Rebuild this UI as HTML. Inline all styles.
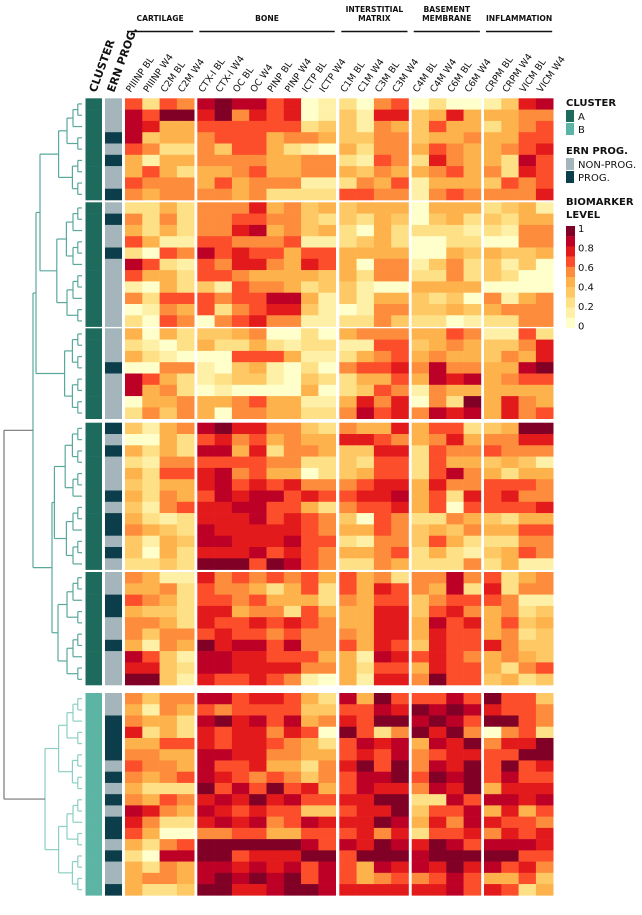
<!DOCTYPE html>
<html><head><meta charset="utf-8">
<style>
html,body{margin:0;padding:0;background:#fff;}
svg{display:block;font-family:"DejaVu Sans","Liberation Sans",sans-serif;}
</style></head>
<body>
<svg id="chart" width="642" height="915" viewBox="0 0 642 915" xmlns="http://www.w3.org/2000/svg">
<g id="hdr"></g>
<g id="dendro"></g>
<g id="side"></g>
<g id="cells"></g>
<g id="legend"></g>
</svg>
<script>
const columns = ["PIIINP BL","PIIINP W4","C2M BL","C2M W4","CTX-I BL","CTX-I W4","OC BL","OC W4","PINP BL","PINP W4","ICTP BL","ICTP W4","C1M BL","C1M W4","C3M BL","C3M W4","C4M BL","C4M W4","C6M BL","C6M W4","CRPM BL","CRPM W4","VICM BL","VICM W4"];
const groups = [["CARTILAGE"],["BONE"],["INTERSTITIAL","MATRIX"],["BASEMENT","MEMBRANE"],["INFLAMMATION"]];
const groupSizes = [4,8,4,4,4];
const blockSizes = [9,11,8,13,10,18];
const blockCluster = ["A","A","A","A","A","B"];
// ERN progression per block: 1 = progressor
const ern1 = [0,0,0,1,0,1,0,0,1];
const ern2 = [0,1,0,0,1,0,0,0,0,0,0];
const ern3 = [0,0,0,1,0,0,0,0];
const ern4 = [1,0,1,0,0,0,1,0,1,1,0,1,0];
const ern5 = [0,0,1,1,0,0,1,0,0,0];
const ern6 = [0,0,1,1,1,1,0,1,0,1,0,1,1,0,1,0,0,1];
// biomarker level per row, each digit = level*9
const levels1 = ["626589886701205602001378","869979576701317734744455","874466666623315436442456","834456664554335534454466","652253664210425546544567","414455554455216527544286","464244564455435445645276","655546455511254614443656","545555452222665515655557"];
const levels2 = ["224255574534344404442341","525255665532324303423244","424255784534204222212155","641166555611234200220055","206586766466444400434334","862165775476405513523130","644266544443425522523200","104231655423310044440000","526665668841314432305145","015462567731015533434555","206505675511225322012255"];
const levels3 = ["404233450020455544651162","210242242122116634543357","421000666411245645443547","005510341020566758554489","864212331032244648784566","845201000040236515444444","044544564411475705294754","253540554422586758784756"];
const levels4 = ["314589775532544746623499","004267564544776545745577","424288472554337726556555","215566665522326626443431","426678564402346626854244","324478676755567747556665","425468788676677846276755","315677886642566746066667","421277786765306522543244","543287777765446534354466","314388777866215536422255","304277786765445624213465","223299969865225422252411"];
const levels5 = ["541175656564645255856245","445265542462647654827255","654266564442546635666511","433277455264447736754523","554276676765447748674634","535567665655547747664523","415497886855647637667533","863188776664418767654543","773288777755426647664256","993176676510417759663423"];
const levels6 = ["535588677642849666869663","415465666633668798987665","544289786845769989869965","724276775760962597950562","446676776542687848795779","554488775544676856776699","655486674425796958796967","545687656535688969896866","422296869674687758794777","546578797866779922868878","875487676633677936684746","752278785687779847587665","640055664466675726675767","425699999986879879868887","208899677799699989999966","425488787868648787978675","455489898968645656864463","422399778998777777867624"];
</script>
<script>
function parseRows(arr){return arr.map(s=>{s=s.replace(/\s/g,'');while(s.length<24)s+=s[s.length-1];return s.slice(0,24).split('').map(d=>+d/9);});}
const blocks=[levels1,levels2,levels3,levels4,levels5,levels6].map(parseRows);
const erns=[ern1,ern2,ern3,ern4,ern5,ern6];
const NS="http://www.w3.org/2000/svg";
function mk(tag,attrs,parent){const e=document.createElementNS(NS,tag);for(const k in attrs)e.setAttribute(k,attrs[k]);parent.appendChild(e);return e;}
const pal=["#ffffcc","#fff0a8","#fee087","#fec965","#feb24c","#fd8d3c","#fc4e2a","#e31a1c","#bd0026","#800026"];
function color(v){let i=Math.round(v*9);return pal[Math.max(0,Math.min(9,i))];}
const colW=17.3, groupStart=[125,197.3,339.3,411.7,484];
const blockStart=[98.3,202.3,328.3,422.7,572,693];
const rowH=11.3;
function colX(c){let g=0,acc=0;while(c>=acc+groupSizes[g]){acc+=groupSizes[g];g++;}return groupStart[g]+(c-acc)*colW;}
function rowY(b,r){return blockStart[b]+r*(b==5?11.24:rowH);}
function rowHt(b){return b==5?11.24:rowH;}

const hdr=document.getElementById('hdr');
groups.forEach((g,i)=>{
  const x0=groupStart[i]+2, x1=groupStart[i]+groupSizes[i]*colW-1;
  const cx=(x0+x1)/2;
  g.forEach((line,j)=>{
    const t=mk('text',{x:cx,y:(g.length==1?21:12+j*9),'text-anchor':'middle','font-size':'7.6','font-weight':'bold',fill:'#111'},hdr);
    t.textContent=line;
    
    
  });
  const l=mk('line',{x1:x0,x2:x1,y1:31.5,y2:31.5,stroke:'#111','stroke-width':1.6},hdr);
  
  
});
columns.forEach((c,i)=>{
  const x=colX(i)+colW/2-3, y=93;
  const t=mk('text',{x:x,y:y,transform:`rotate(-55 ${x} ${y})`,'font-size':'9.3',fill:'#111'},hdr);
  t.textContent=c;
  
  
});
[["CLUSTER",96],["ERN PROG.",114]].forEach(([s,x])=>{
  const t=mk('text',{x:x,y:93,transform:`rotate(-70 ${x} 93)`,'font-size':'11','font-weight':'bold',fill:'#111'},hdr);
  t.textContent=s;
  
  
});

const cells=document.getElementById('cells'), side=document.getElementById('side');
blocks.forEach((rows,b)=>{
  rows.forEach((vals,r)=>{
    const y=rowY(b,r),h=rowHt(b);
    vals.forEach((v,c)=>{
      const rc=mk('rect',{x:colX(c),y:y,width:colW+0.3,height:h+0.3,fill:color(v)},cells);
      
      
    });
    const cl=mk('rect',{x:85.5,y:y,width:16.5,height:h+0.3,fill:blockCluster[b]=="A"?"#1e6b5d":"#5bb4a4"},side);
    
    
    const er=mk('rect',{x:105,y:y,width:17,height:h+0.3,fill:erns[b][r]?"#0b3e4a":"#a4b6bb"},side);
    
    
  });
});

const dg=document.getElementById('dendro');
function line(x1,y1,x2,y2,col,w){const l=mk('line',{x1,y1,x2,y2,stroke:col,'stroke-width':w||1.2},dg);}
function tree(ys,xLeaf,xMin,col){
  if(ys.length==1)return {x:xLeaf,y:ys[0]};
  const m=Math.ceil(ys.length/2);
  const a=tree(ys.slice(0,m),xLeaf,xMin,col), b=tree(ys.slice(m),xLeaf,xMin,col);
  const x=Math.max(xMin,Math.min(a.x,b.x)-(3+ys.length*0.6));
  line(x,a.y,a.x,a.y,col);line(x,b.y,b.x,b.y,col);line(x,a.y,x,b.y,col);
  return {x:x,y:(a.y+b.y)/2};
}
const roots=blocks.map((rows,b)=>{
  const ys=rows.map((_,r)=>rowY(b,r)+rowHt(b)/2);
  return tree(ys,82,45,b==5?"#8ccfc4":"#5aa89c");
});
const colA="#5aa89c";
function join(p,q,x,col){line(x,p.y,p.x,p.y,col);line(x,q.y,q.x,q.y,col);line(x,p.y,x,q.y,col);return {x:x,y:(p.y+q.y)/2};}
const j01=join(roots[0],roots[1],40,colA);
const j012=join(j01,roots[2],36,colA);
const j34=join(roots[3],roots[4],52,colA);
const jA=join(j012,j34,33,colA);
const jR=join(jA,roots[5],4,"#777");

const lg=document.getElementById('legend');
function ltext(s,x,y,sz,bold,name){const t=mk('text',{x,y,'font-size':sz,'font-weight':bold?'bold':'normal',fill:'#111'},lg);t.textContent=s;}
function lrect(x,y,w,h,f,name){const r=mk('rect',{x,y,width:w,height:h,fill:f},lg);}
ltext("CLUSTER",566,106,10,true,'legend-cluster-title');
lrect(566,110,8,12,"#1e6b5d",'legend-swatch-a');ltext("A",578,120,10,false,'legend-label-a');
lrect(566,123,8,12,"#5bb4a4",'legend-swatch-b');ltext("B",578,133,10,false,'legend-label-b');
ltext("ERN PROG.",566,154,10,true,'legend-ern-title');
lrect(566,158,8,12,"#a4b6bb",'legend-swatch-nonprog');ltext("NON-PROG.",578,168,10,false,'legend-label-nonprog');
lrect(566,171,8,12,"#0b3e4a",'legend-swatch-prog');ltext("PROG.",578,181,10,false,'legend-label-prog');
ltext("BIOMARKER",566,205,10,true,'legend-biomarker-title');
ltext("LEVEL",566,218,10,true,'legend-biomarker-title-2');
for(let i=0;i<10;i++){lrect(566,226+i*10.2,9,10.4,pal[9-i],'colorbar-step');}
["1","0.8","0.6","0.4","0.2","0"].forEach((s,i)=>ltext(s,578,232+i*19.5,10,false,'colorbar-tick'));
</script>
</body></html>
